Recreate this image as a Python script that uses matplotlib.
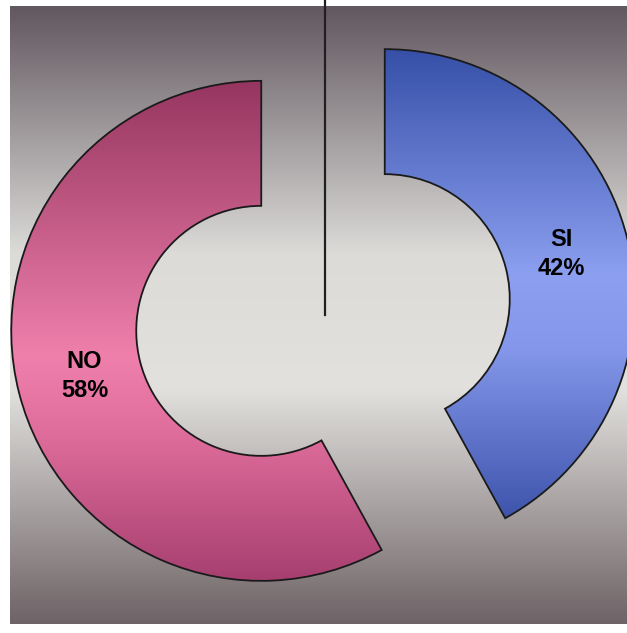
import numpy as np
import matplotlib.pyplot as plt
from matplotlib.colors import LinearSegmentedColormap

labels = ["SI", "NO"]
values = [42, 58]

W, H = 627, 633
fig = plt.figure(figsize=(W / 100, H / 100), dpi=100, facecolor="white")
ax = fig.add_axes([0, 0, 1, 1])
# 1 unit of pie radius = 250 px, pie centre at pixel (323, 315)
ax.set_xlim(-323 / 250, (W - 323) / 250)
ax.set_ylim(-(H - 315) / 250, 315 / 250)
ax.axis("off")

# background panel with vertical grey gradient
bg_cmap = LinearSegmentedColormap.from_list(
    "bg", [(0.0, "#625860"), (0.4, "#dcdbd8"), (0.62, "#e2e1de"), (1.0, "#6e6366")])
grad = np.linspace(0, 1, 256).reshape(-1, 1)
ax.imshow(grad, cmap=bg_cmap, aspect="auto", origin="upper",
          extent=[-1.252, 1.22, -1.236, 1.236], zorder=0)

wedges, texts, autotexts = ax.pie(
    values, startangle=90, counterclock=False, explode=[0.255, 0.255],
    radius=1, autopct="%1.0f%%", pctdistance=0.73,
    wedgeprops=dict(width=0.5, facecolor="none", edgecolor="#1a1a1a", linewidth=1.3, zorder=3),
    textprops=dict(fontsize=17, fontweight="bold", family="Liberation Sans", color="black"))
ax.set_xlim(-323 / 250, (W - 323) / 250)
ax.set_ylim(-(H - 315) / 250, 315 / 250)
ax.set_aspect("auto")

cmaps = {
    "SI": LinearSegmentedColormap.from_list(
        "si", [(0.0, "#3650a8"), (0.45, "#8c9ff0"), (0.6, "#8497ea"), (1.0, "#3148a0")]),
    "NO": LinearSegmentedColormap.from_list(
        "no", [(0.0, "#963660"), (0.55, "#ef80ac"), (0.7, "#e06e9c"), (1.0, "#a63f70")]),
}
for w, lab in zip(wedges, labels):
    cx, cy = w.center
    im = ax.imshow(grad, cmap=cmaps[lab], aspect="auto", origin="upper",
                   extent=[cx - 1, cx + 1, cy - 1, cy + 1], zorder=2)
    im.set_clip_path(w)

for t, lab in zip(autotexts, labels):
    t.set_text(lab + "\n" + t.get_text())
    t.set_linespacing(1.35)
    t.set_zorder(5)

# vertical divider from the top down to the pie centre
ax.plot([0.008, 0.008], [0, 1.27], color="#202020", linewidth=1.6, zorder=4)

fig.savefig("out.png", dpi=100, facecolor="white")
